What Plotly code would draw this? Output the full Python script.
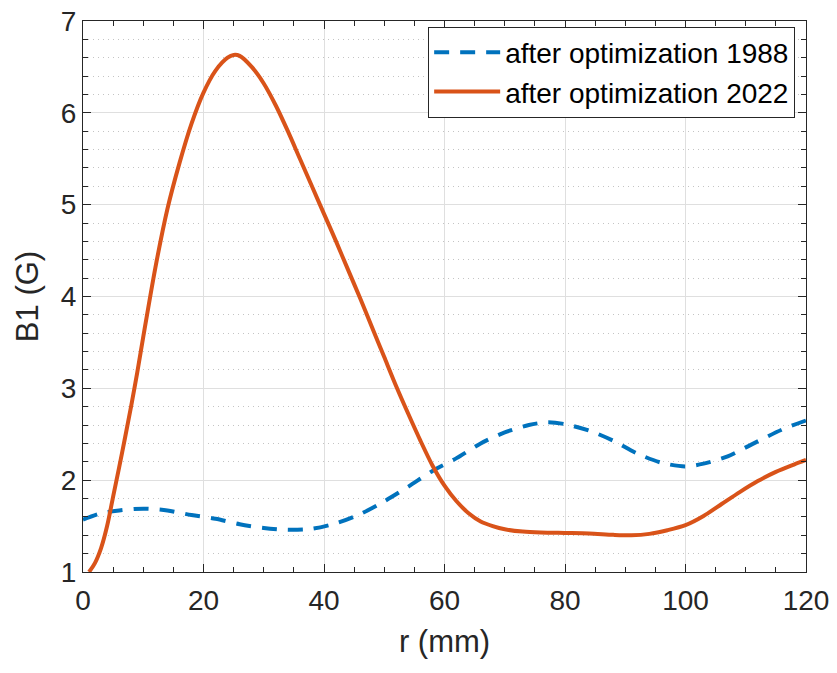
import plotly.graph_objects as go

r_1988 = [0, 3, 6, 10, 14, 18, 22, 26, 30, 34, 38, 42, 46, 50, 54, 58, 62, 66, 70, 74, 77, 80, 84, 88, 92, 96, 100, 103, 107, 111, 116, 120]
b_1988 = [1.57, 1.64, 1.67, 1.69, 1.67, 1.62, 1.58, 1.52, 1.48, 1.46, 1.47, 1.53, 1.63, 1.77, 1.93, 2.10, 2.24, 2.40, 2.52, 2.60, 2.63, 2.61, 2.54, 2.43, 2.29, 2.19, 2.15, 2.18, 2.26, 2.39, 2.55, 2.65]

r_2022 = [1, 2, 3, 4, 5, 6, 7, 8, 9, 10, 12, 14, 16, 18, 20, 22, 24, 25, 26, 28, 30, 32, 34, 36, 38, 40, 42, 44, 46, 48, 50, 52, 54, 56, 58, 60, 62, 64, 66, 68, 70, 73, 76, 80, 84, 88, 91, 94, 97, 100, 103, 106, 109, 112, 115, 118, 120]
b_2022 = [1.0, 1.1, 1.26, 1.5, 1.82, 2.14, 2.47, 2.81, 3.17, 3.56, 4.31, 4.95, 5.45, 5.88, 6.22, 6.46, 6.6, 6.63, 6.62, 6.5, 6.32, 6.08, 5.8, 5.5, 5.2, 4.9, 4.6, 4.29, 3.98, 3.66, 3.34, 3.02, 2.72, 2.43, 2.16, 1.94, 1.77, 1.64, 1.55, 1.5, 1.465, 1.44, 1.43, 1.425, 1.42, 1.405, 1.40, 1.415, 1.455, 1.51, 1.61, 1.74, 1.87, 1.99, 2.09, 2.17, 2.22]

names = ["after optimization 1988", "after optimization 2022"]

FONT = "Liberation Sans, Arial, sans-serif"
AX = "#262626"

fig = go.Figure()
fig.add_trace(go.Scatter(x=r_1988, y=b_1988, mode="lines", name=names[0],
                         line=dict(color="#0072BD", width=4, dash="15px,11px", shape="spline", smoothing=0.8)))
fig.add_trace(go.Scatter(x=r_2022, y=b_2022, mode="lines", name=names[1],
                         line=dict(color="#D95319", width=4, shape="spline", smoothing=0.8)))

common = dict(showline=True, linecolor=AX, linewidth=1, mirror="allticks",
              ticks="inside", tickcolor=AX, tickwidth=1, ticklen=8,
              tickfont=dict(family=FONT, size=28, color=AX),
              showgrid=True, gridcolor="#dfdfdf", gridwidth=1, zeroline=False,
              automargin=False)

fig.update_xaxes(range=[0, 120], dtick=20, tick0=0, ticklabelstandoff=3,
                 title=dict(text="r (mm)", font=dict(family=FONT, size=31, color=AX), standoff=15),
                 minor=dict(dtick=5, ticks="inside", ticklen=5, tickcolor=AX, showgrid=False),
                 **common)
fig.update_yaxes(range=[1, 7], dtick=1, tick0=1,
                 title=dict(text="B1 (G)", font=dict(family=FONT, size=31, color=AX), standoff=12),
                 minor=dict(dtick=0.2, ticks="inside", ticklen=5, tickcolor=AX, showgrid=True,
                            gridcolor="#c4c4c4", griddash="1px,4px", gridwidth=1),
                 **common)

fig.update_layout(
    width=837, height=673,
    margin=dict(l=83, r=31, t=21, b=101),
    paper_bgcolor="white", plot_bgcolor="white",
    font=dict(family=FONT, color=AX),
    legend=dict(x=0.985, y=0.99, xanchor="right", yanchor="top",
                bgcolor="white", bordercolor=AX, borderwidth=1,
                font=dict(family=FONT, size=28, color="black"),
                itemwidth=66, tracegroupgap=0),
    showlegend=True,
)

fig.write_html("out.html")
